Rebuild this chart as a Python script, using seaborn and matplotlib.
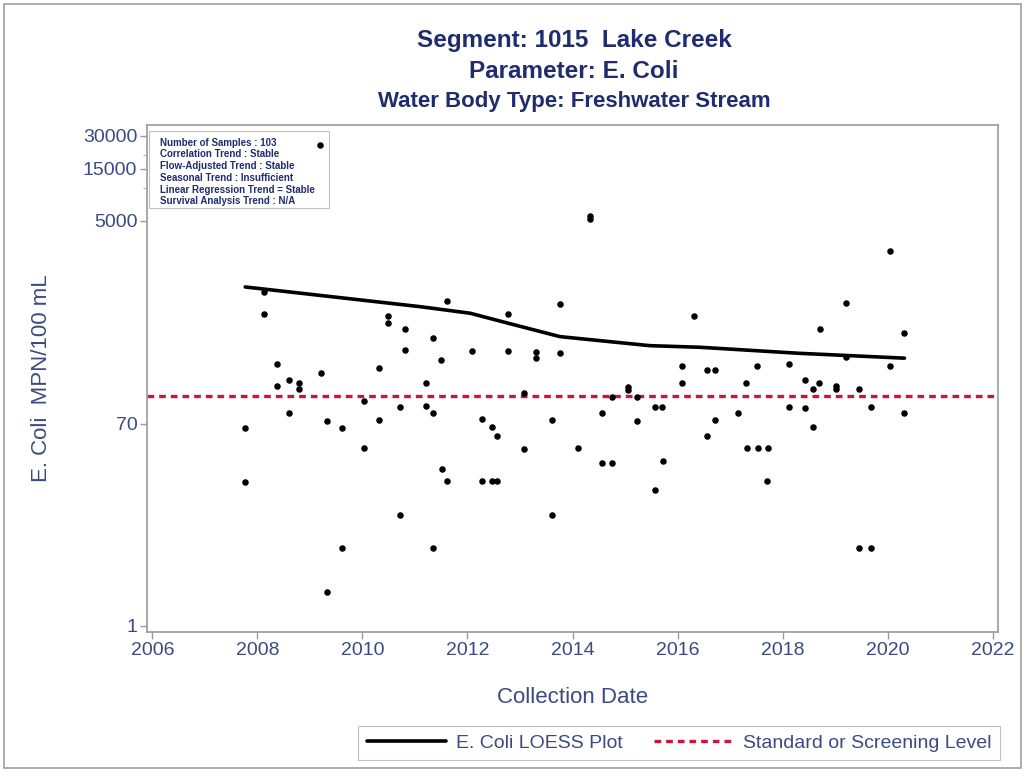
import matplotlib
matplotlib.use("Agg")
import matplotlib.pyplot as plt
import matplotlib.patches as mpatches
from matplotlib.lines import Line2D
from matplotlib.ticker import FixedLocator, NullFormatter, FixedFormatter
import numpy as np
import pandas as pd
import seaborn as sns

# ---------------- data ----------------
sample_years = [
    2007.77, 2007.77, 2008.13, 2008.13, 2008.38, 2008.38, 2008.60, 2008.60, 2008.79, 2008.79,
    2009.19, 2009.21, 2009.33, 2009.33, 2009.62, 2009.62, 2010.04, 2010.04, 2010.31, 2010.31,
    2010.49, 2010.49, 2010.71, 2010.71, 2010.82, 2010.82, 2011.21, 2011.21, 2011.34, 2011.34,
    2011.34, 2011.50, 2011.52, 2011.61, 2011.61, 2012.09, 2012.28, 2012.28, 2012.46, 2012.46,
    2012.57, 2012.57, 2012.78, 2012.78, 2013.07, 2013.07, 2013.30, 2013.30, 2013.61, 2013.61,
    2013.76, 2013.76, 2014.11, 2014.33, 2014.33, 2014.56, 2014.56, 2014.76, 2014.76, 2015.05,
    2015.05, 2015.23, 2015.23, 2015.57, 2015.57, 2015.71, 2015.72, 2016.08, 2016.08, 2016.32,
    2016.56, 2016.56, 2016.71, 2016.71, 2017.15, 2017.30, 2017.33, 2017.51, 2017.53, 2017.71,
    2017.73, 2018.13, 2018.13, 2018.43, 2018.43, 2018.58, 2018.58, 2018.69, 2018.72, 2019.02,
    2019.02, 2019.21, 2019.21, 2019.46, 2019.46, 2019.69, 2019.69, 2020.05, 2020.05, 2020.32,
    2020.32,
]
ecoli_values = [
    64, 20.5, 1130, 707, 247, 155, 177, 89, 165, 145,
    24700, 206, 75, 2.06, 64, 5.1, 113, 42, 227, 76,
    673, 581, 99, 10.3, 513, 332, 165, 101, 424, 89,
    5.1, 269, 27, 935, 21, 327, 77, 21, 65, 21,
    54, 21, 703, 327, 133, 41, 320, 279, 76, 10.3,
    867, 309, 42, 5550, 5200, 89, 31, 123, 31, 153,
    143, 123, 75, 99, 17.5, 99, 32, 237, 165, 682,
    216, 54, 216, 76, 88, 165, 42, 237, 42, 21,
    42, 247, 100, 175, 97, 145, 65, 165, 513, 155,
    145, 885, 288, 145, 5.1, 100, 5.1, 2675, 237, 471,
    88,
]

loess_years = [2007.77, 2011.10, 2012.05, 2012.78, 2013.76, 2015.47, 2016.42, 2018.32, 2020.32]
loess_values = [1247, 824, 718, 581, 439, 363, 351, 309, 279]

standard_level = 126

y_ticks = [1, 70, 5000, 15000, 30000]
y_minor = [10000, 20000]
x_ticks = [2006, 2008, 2010, 2012, 2014, 2016, 2018, 2020, 2022]

title_lines = ["Segment: 1015  Lake Creek", "Parameter: E. Coli", "Water Body Type: Freshwater Stream"]
info_lines = [
    "Number of Samples : 103",
    "Correlation Trend : Stable",
    "Flow-Adjusted Trend : Stable",
    "Seasonal Trend : Insufficient",
    "Linear Regression Trend = Stable",
    "Survival Analysis Trend : N/A",
]

# ---------------- plot ----------------
sns.set_theme(style="white")
plt.rcParams["font.family"] = ["Liberation Sans", "DejaVu Sans"]

navy = "#1f2d6e"
tickc = "#3b4a80"
red = "#c8173a"
dash = (0, (2.0, 1.5))

fig = plt.figure(figsize=(10.26, 7.72), dpi=100)
ax = fig.add_axes([0.1433, 0.1813, 0.8294, 0.6568])

pts = pd.DataFrame({"date": sample_years, "ecoli": ecoli_values})
loess = pd.DataFrame({"date": loess_years, "ecoli": loess_values})

sns.scatterplot(data=pts, x="date", y="ecoli", ax=ax, color="black", s=22,
                edgecolor="black", linewidth=0, zorder=3)
sns.lineplot(data=loess, x="date", y="ecoli", ax=ax, color="black", linewidth=2.6,
             zorder=4, sort=True, estimator=None)
ax.axhline(standard_level, color=red, linestyle=dash, linewidth=2.4, zorder=2)

ax.set_yscale("log")
ax.set_ylim(0.88, 37600)
ax.set_xlim(2005.9, 2022.1)
ax.yaxis.set_major_locator(FixedLocator(y_ticks))
ax.yaxis.set_major_formatter(FixedFormatter([str(v) for v in y_ticks]))
ax.yaxis.set_minor_locator(FixedLocator(y_minor))
ax.yaxis.set_minor_formatter(NullFormatter())
ax.set_xticks(x_ticks)
ax.set_xticklabels([str(v) for v in x_ticks])

for sp in ax.spines.values():
    sp.set_color("#9a9a9a")
    sp.set_linewidth(1.2)
ax.tick_params(axis="both", which="major", direction="out", length=5, width=1,
               color="#9a9a9a", labelsize=14, labelcolor=tickc, pad=2,
               bottom=True, left=True)
ax.tick_params(axis="y", which="minor", direction="out", length=3, width=0.8,
               color="#b0b0b0", left=True)

ax.set_xlabel("Collection Date", fontsize=16, color=tickc, labelpad=20)
ax.set_ylabel("E. Coli  MPN/100 mL", fontsize=16, color=tickc, labelpad=22)

# titles (centred over the plot area)
cx = 574 / 1026
fig.text(cx, 1 - 40 / 772, title_lines[0], ha="center", va="center", fontsize=17.5,
         fontweight="bold", color=navy)
fig.text(cx, 1 - 71 / 772, title_lines[1], ha="center", va="center", fontsize=17.5,
         fontweight="bold", color=navy)
fig.text(cx, 1 - 101 / 772, title_lines[2], ha="center", va="center", fontsize=16,
         fontweight="bold", color=navy)

# info box
ax.add_patch(mpatches.Rectangle((0.0024, 0.836), 0.2115, 0.152, transform=ax.transAxes,
                                facecolor="white", edgecolor="#c0c0c0", linewidth=0.8, zorder=1))
ax.text(0.015, 0.975, "\n".join(info_lines), transform=ax.transAxes, ha="left", va="top",
        fontsize=7.0, fontweight="bold", color=navy, linespacing=1.22, zorder=2)

# legend
handles = [
    Line2D([0], [0], color="black", linewidth=2.6),
    Line2D([0], [0], color=red, linewidth=2.4, linestyle=dash),
]
labels = ["E. Coli LOESS Plot", "Standard or Screening Level"]
leg = fig.legend(handles, labels, loc="lower right", bbox_to_anchor=(1000 / 1026, 12 / 772),
                 ncol=2, frameon=True, fontsize=14, handlelength=4.1, columnspacing=1.6,
                 borderpad=0.42, handletextpad=0.5, fancybox=False, borderaxespad=0)
leg.get_frame().set_edgecolor("#b0b0b0")
leg.get_frame().set_linewidth(0.8)
for t in leg.get_texts():
    t.set_color(tickc)

# outer border
fig.add_artist(mpatches.Rectangle((4 / 1026, 4 / 772), 1017 / 1026, 764 / 772,
                                  transform=fig.transFigure, fill=False,
                                  edgecolor="#a0a0a0", linewidth=1.2))

fig.savefig("out.png", dpi=100)
